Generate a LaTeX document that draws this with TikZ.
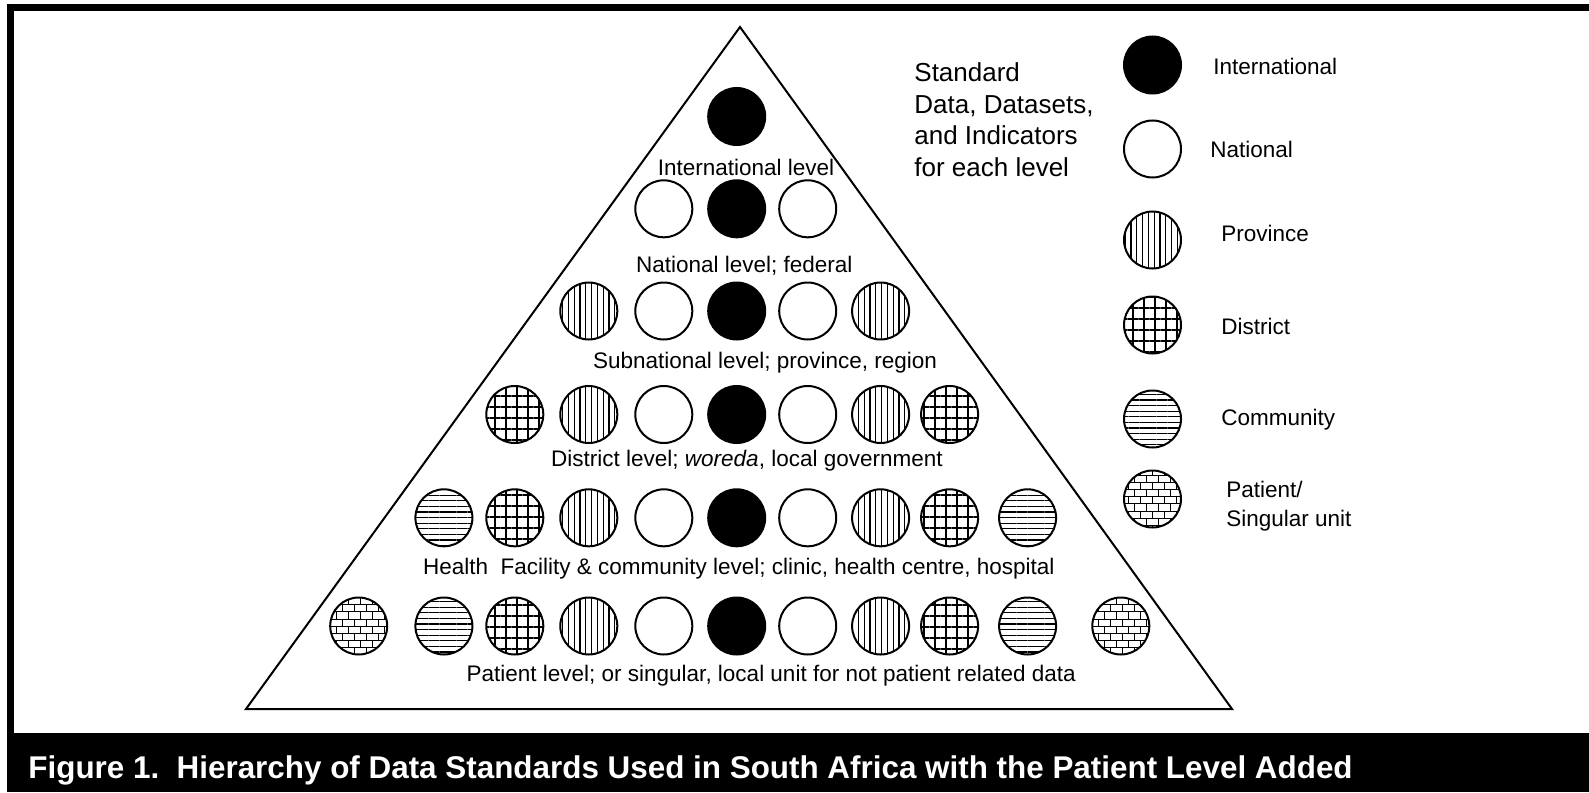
\documentclass[tikz,border=0pt]{standalone}
\usepackage{fontspec}
\setmainfont{Liberation Sans}
\usetikzlibrary{patterns.meta}

\tikzdeclarepattern{
  name=brickwall,
  type=uncolored,
  bottom left={(-0.1pt,-0.1pt)},
  top right={(6.1pt,7.3pt)},
  tile size={(6pt,7.2pt)},
  code={
    \draw[line width=0.5pt] (0pt,0pt) -- (6pt,0pt) (0pt,3.6pt) -- (6pt,3.6pt)
      (0pt,0pt) -- (0pt,3.6pt) (3pt,3.6pt) -- (3pt,7.2pt);
  }
}

\begin{document}
\begin{tikzpicture}[x=0.5pt, y=-0.5pt,
    dot/.style={circle, draw, line width=1pt, minimum size=28.5pt, inner sep=0pt},
    intl/.style={dot, fill=black},
    natl/.style={dot, fill=white},
    prov/.style={dot, pattern={Lines[angle=90, distance=2.9pt, line width=0.55pt]}},
    dist/.style={dot, pattern={Hatch[angle=0, distance=5.5pt, line width=0.55pt]}},
    comm/.style={dot, pattern={Lines[angle=0, distance=2.8pt, line width=0.55pt]}},
    pat/.style={dot, pattern=brickwall},
    lvl/.style={font=\fontsize{11.25}{14}\selectfont, inner sep=0pt},
    leg/.style={font=\fontsize{11.25}{14.7}\selectfont, anchor=west, align=left, inner sep=0pt}
  ]
  \useasboundingbox (0,0) rectangle (1589,792);
  \fill[white] (0,0) rectangle (1589,792);
  \fill[black] (7,4) rectangle (1589,11);
  \fill[black] (7,4) rectangle (14,792);
  \fill[black] (7,733) rectangle (1589,792);

  \coordinate (apex) at (740,27);
  \coordinate (bl) at (246,709);
  \coordinate (br) at (1232,709);
  \draw[line width=1pt] (apex) -- (bl) -- (br) -- cycle;

  \node[intl] (r1c6) at (736.7,116.5) {};
  \foreach \s/\px/\i in {natl/663.8/5, intl/736.7/6, natl/807.7/7}
    \node[\s] (r2c\i) at (\px,208.8) {};
  \foreach \s/\px/\i in {prov/588.8/4, natl/663.8/5, intl/736.7/6, natl/807.7/7, prov/880.6/8}
    \node[\s] (r3c\i) at (\px,311) {};
  \foreach \s/\px/\i in {dist/514.8/3, prov/588.8/4, natl/663.8/5, intl/736.7/6,
                         natl/807.7/7, prov/880.6/8, dist/949.6/9}
    \node[\s] (r4c\i) at (\px,414.5) {};
  \foreach \s/\px/\i in {comm/443.9/2, dist/514.8/3, prov/588.8/4, natl/663.8/5, intl/736.7/6,
                         natl/807.7/7, prov/880.6/8, dist/949.6/9, comm/1027.6/10}
    \node[\s] (r5c\i) at (\px,517.8) {};
  \foreach \s/\px/\i in {pat/358.7/1, comm/443.9/2, dist/514.8/3, prov/588.8/4, natl/663.8/5,
                         intl/736.7/6, natl/807.7/7, prov/880.6/8, dist/949.6/9,
                         comm/1027.6/10, pat/1120.8/11}
    \node[\s] (r6c\i) at (\px,626) {};

  \node[lvl] (l1) at (746,167) {International level};
  \node[lvl] (l2) at (744.3,265.5) {National level; federal};
  \node[lvl] (l3) at (765,362.8) {Subnational level; province, region};
  \node[lvl] (l4) at (746.9,461) {District level; \textit{woreda}, local government};
  \node[lvl] (l5) at (738.8,568.5) {Health~ Facility \& community level; clinic, health centre, hospital};
  \node[lvl] (l6) at (771.2,676) {Patient level; or singular, local unit for not patient related data};

  \node[anchor=north west, align=left, inner sep=0pt,
        font=\fontsize{13}{15.75}\selectfont] (std) at (914,62.5)
        {Standard\\Data, Datasets,\\and Indicators\\for each level};

  \node[intl] (kIntl) at (1152.5,65) {};
  \node[natl] (kNatl) at (1152.5,149) {};
  \node[prov] (kProv) at (1152.5,240) {};
  \node[dist] (kDist) at (1152.5,325) {};
  \node[comm] (kComm) at (1152.5,419) {};
  \node[pat] (kPat) at (1152.5,499) {};
  \node[leg] (tIntl) at (1213,66) {International};
  \node[leg] (tNatl) at (1210,149) {National};
  \node[leg] (tProv) at (1221,233) {Province};
  \node[leg] (tDist) at (1221,326) {District};
  \node[leg] (tComm) at (1221,420) {Community};
  \node[leg] (tPat) at (1226,506) {Patient/\\Singular unit};

  \node[anchor=base west, inner sep=0pt, text=white,
        font=\fontsize{15.7}{18}\selectfont\bfseries] (cap) at (28,778)
        {Figure 1.\ \ Hierarchy of Data Standards Used in South Africa with the Patient Level Added};
\end{tikzpicture}
\end{document}
